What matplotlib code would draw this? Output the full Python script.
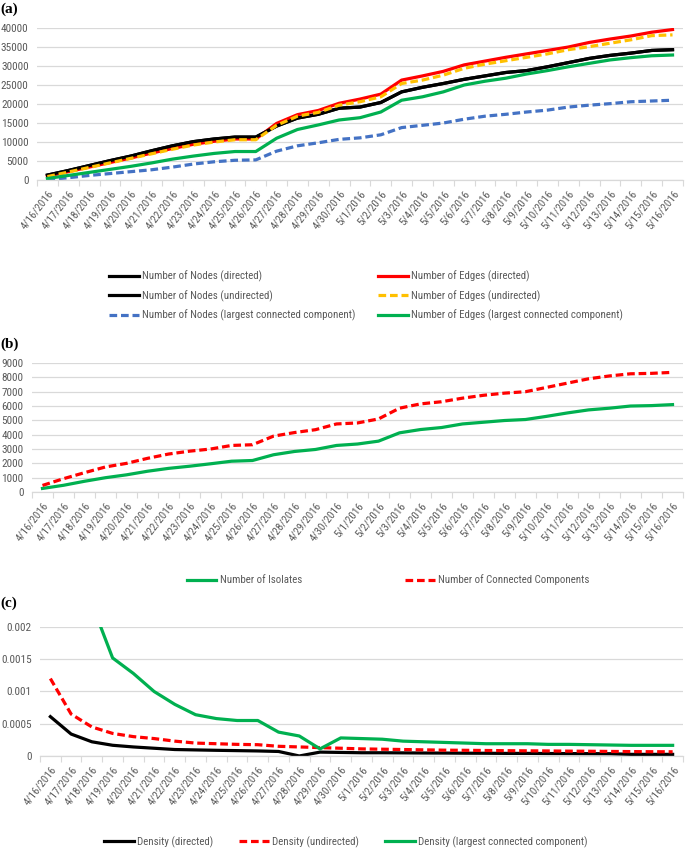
import numpy as np
import matplotlib
matplotlib.use("Agg")
import matplotlib.pyplot as plt

plt.rcParams['font.family'] = ['Roboto Condensed', 'DejaVu Sans']

dates = [f"4/{d}/2016" for d in range(16, 31)] + [f"5/{d}/2016" for d in range(1, 17)]

# panel (a)
nodes_directed = [1300, 2500, 3800, 5100, 6300, 7700, 9000, 10100, 10800, 11300, 11300,
                  14200, 16300, 17300, 18900, 19200, 20400, 23200, 24400, 25400, 26500,
                  27400, 28300, 28800, 29800, 30900, 32000, 32800, 33400, 34100, 34300]
nodes_undirected = list(nodes_directed)
edges_directed = [1000, 2200, 3400, 4600, 5800, 7100, 8300, 9400, 10200, 10800, 10800,
                  14900, 17200, 18300, 20200, 21300, 22600, 26300, 27400, 28600, 30300,
                  31300, 32300, 33200, 34100, 35000, 36200, 37100, 37900, 38900, 39600]
edges_undirected = [900, 2100, 3300, 4500, 5700, 6900, 8100, 9200, 10000, 10600, 10600,
                    14400, 16800, 17800, 19700, 20600, 21900, 25400, 26300, 27600, 29400,
                    30500, 31400, 32300, 33200, 34300, 35100, 36000, 36900, 38000, 38200]
nodes_lcc = [100, 600, 1200, 1700, 2200, 2700, 3400, 4200, 4800, 5200, 5300,
             7600, 9000, 9800, 10700, 11100, 11900, 13800, 14400, 15000, 16000,
             16800, 17300, 17900, 18400, 19200, 19700, 20100, 20600, 20800, 21000]
edges_lcc = [400, 1200, 2000, 2800, 3600, 4500, 5500, 6300, 7000, 7500, 7500,
             11000, 13300, 14500, 15800, 16400, 17900, 21000, 21900, 23200, 25000,
             26000, 26800, 27900, 28800, 29800, 30700, 31600, 32200, 32700, 32900]

# panel (b)
isolates = [250, 470, 750, 1000, 1200, 1450, 1650, 1800, 1970, 2150, 2200,
            2600, 2830, 2970, 3250, 3350, 3550, 4130, 4360, 4500, 4750,
            4870, 4990, 5060, 5280, 5520, 5730, 5850, 6000, 6030, 6100]
components = [460, 930, 1350, 1750, 2000, 2350, 2650, 2850, 3000, 3250, 3300,
              3900, 4150, 4350, 4750, 4820, 5100, 5850, 6150, 6300, 6550,
              6750, 6900, 7000, 7300, 7600, 7900, 8100, 8250, 8280, 8350]

# panel (c)
density_directed = [0.00061, 0.00034, 0.00022, 0.000166, 0.00014, 0.00012, 0.0001, 0.000094,
                    0.000088, 0.000083, 0.000078, 0.00007, 0.0, 0.00006, 0.000055, 0.00005,
                    0.00005, 0.000048, 0.000046, 0.000045, 0.000043, 0.000042, 0.00004,
                    0.00004, 0.000038, 0.000037, 0.000036, 0.000035, 0.000025, 0.000025, 0.000025]
density_undirected = [0.0012, 0.00065, 0.00045, 0.00035, 0.0003, 0.00027, 0.00023, 0.0002,
                      0.00019, 0.00018, 0.000175, 0.00015, 0.00014, 0.00013, 0.00012, 0.00011,
                      0.000105, 0.0001, 0.000095, 0.00009, 0.000088, 0.000085, 0.000082,
                      0.00008, 0.000078, 0.000075, 0.000073, 0.00007, 0.000068, 0.000066, 0.000065]
density_lcc = [0.0045, 0.0031, 0.00236, 0.00152, 0.00128, 0.001, 0.0008, 0.00064,
               0.00058, 0.00055, 0.00055, 0.00037, 0.00031, 0.00011, 0.00028, 0.00027,
               0.00026, 0.00023, 0.00022, 0.00021, 0.0002, 0.00019, 0.00019, 0.00019,
               0.00018, 0.00018, 0.000175, 0.00017, 0.000165, 0.000165, 0.000165]

BLACK, RED, YELLOW, GREEN, BLUE = "#000000", "#FF0000", "#FFC000", "#00B050", "#4472C4"
GRID = "#D9D9D9"
TXT = "#595959"
LW = 2.3
DASH = (2.4, 1.2)
x = np.arange(len(dates))


def style_axis(ax, yticks, ylabels):
    ax.set_xlim(-0.5, len(dates) - 0.5)
    ax.set_ylim(yticks[0], yticks[-1])
    ax.set_yticks(yticks)
    ax.set_yticklabels(ylabels)
    ax.set_xticks(np.arange(-0.5, len(dates)), minor=False)
    ax.set_xticklabels([])
    ax.set_xticks(x, minor=True)
    ax.set_xticklabels(dates, minor=True, rotation=52, ha="right", va="top",
                       rotation_mode="anchor")
    ax.tick_params(axis="x", which="major", length=4, color=GRID, width=0.8)
    ax.tick_params(axis="x", which="minor", length=0, pad=6, labelsize=7.9, labelcolor=TXT)
    ax.tick_params(axis="y", length=0, pad=6, labelsize=8.1, labelcolor=TXT)
    ax.grid(axis="y", color=GRID, lw=0.9)
    ax.set_axisbelow(True)
    for s in ["top", "right", "left"]:
        ax.spines[s].set_visible(False)
    ax.spines["bottom"].set_color(GRID)
    ax.spines["bottom"].set_linewidth(0.9)


leg_kw = dict(loc="center", frameon=False, fontsize=7.8, labelcolor=TXT,
              handlelength=2.75, handletextpad=0.3)

fig = plt.figure(figsize=(6.85, 8.52), dpi=100)

# (a)
ax1 = fig.add_axes([0.054, 0.7887, 0.943, 0.1784])
h_nd, = ax1.plot(x, nodes_directed, color=BLACK, lw=LW)
h_ed, = ax1.plot(x, edges_directed, color=RED, lw=LW)
h_nu, = ax1.plot(x, nodes_undirected, color=BLACK, lw=LW)
h_eu, = ax1.plot(x, edges_undirected, color=YELLOW, lw=LW, ls=(0, DASH))
h_nl, = ax1.plot(x, nodes_lcc, color=BLUE, lw=LW, ls=(0, DASH))
h_el, = ax1.plot(x, edges_lcc, color=GREEN, lw=LW)
style_axis(ax1, list(range(0, 40001, 5000)), [str(v) for v in range(0, 40001, 5000)])
fig.legend([h_nd, h_nu, h_nl, h_ed, h_eu, h_el],
           ["Number of Nodes (directed)", "Number of Nodes (undirected)",
            "Number of Nodes (largest connected component)",
            "Number of Edges (directed)", "Number of Edges (undirected)",
            "Number of Edges (largest connected component)"],
           ncol=2, bbox_to_anchor=(366 / 685, 1 - 296 / 852), columnspacing=2.1,
           labelspacing=0.75, **leg_kw)
fig.text(0.0, 1 - 9 / 852, "(a)", fontsize=11, fontweight="bold",
         family="Liberation Serif", va="center")

# (b)
ax2 = fig.add_axes([0.0467, 0.4225, 0.9504, 0.1514])
h_is, = ax2.plot(x, isolates, color=GREEN, lw=LW)
h_cc, = ax2.plot(x, components, color=RED, lw=LW, ls=(0, DASH))
style_axis(ax2, list(range(0, 9001, 1000)), [str(v) for v in range(0, 9001, 1000)])
fig.legend([h_is, h_cc], ["Number of Isolates", "Number of Connected Components"],
           ncol=2, bbox_to_anchor=(388 / 685, 1 - 580 / 852), columnspacing=9.5, **leg_kw)
fig.text(0.0, 1 - 344 / 852, "(b)", fontsize=11, fontweight="bold",
         family="Liberation Serif", va="center")

# (c)
ax3 = fig.add_axes([0.0584, 0.1127, 0.9387, 0.1514])
h_dd, = ax3.plot(x, density_directed, color=BLACK, lw=LW)
h_du, = ax3.plot(x, density_undirected, color=RED, lw=LW, ls=(0, DASH))
h_dl, = ax3.plot(x, density_lcc, color=GREEN, lw=LW)
style_axis(ax3, [0, 0.0005, 0.001, 0.0015, 0.002], ["0", "0.0005", "0.001", "0.0015", "0.002"])
fig.legend([h_dd, h_du, h_dl],
           ["Density (directed)", "Density (undirected)",
            "Density (largest connected component)"],
           ncol=3, bbox_to_anchor=(346 / 685, 1 - 842 / 852), columnspacing=2.4, **leg_kw)
fig.text(0.0, 1 - 603 / 852, "(c)", fontsize=11, fontweight="bold",
         family="Liberation Serif", va="center")

fig.savefig("out.png", dpi=100)
